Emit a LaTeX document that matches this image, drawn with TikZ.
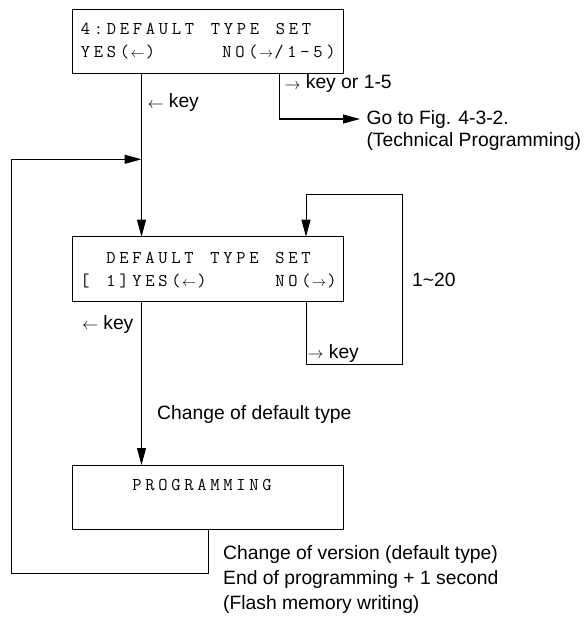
\documentclass[tikz,border=0pt]{standalone}
\usepackage{fontspec}
\setmainfont{Liberation Sans}
\usetikzlibrary{arrows.meta}
\makeatletter
\newcommand\lcdtext[1]{\@tfor\lcd@c:=#1\do{\makebox[13pt][c]{\lcd@c}}}
\makeatother
\newcommand\lcdla{\resizebox{14pt}{!}{$\leftarrow$}}
\newcommand\lcdra{\resizebox{14pt}{!}{$\rightarrow$}}
\newcommand\keyla{\resizebox{16pt}{!}{$\leftarrow$}}
\newcommand\keyra{\resizebox{16pt}{!}{$\rightarrow$}}
\begin{document}
\begin{tikzpicture}[x=1pt,y=-1pt,line width=1pt,
  box/.style={draw,rectangle,minimum width=270.5pt,minimum height=64.3pt,inner sep=0pt,outer sep=0pt},
  lcd/.style={inner sep=0pt,font=\fontsize{18}{18}\selectfont\ttfamily},
  lbl/.style={inner sep=0pt,anchor=base west,font=\fontsize{19.3}{22}\selectfont},
  arr/.style={-{Triangle[length=17pt,width=9pt]}}]
\useasboundingbox (0,0) rectangle (588,623);
% boxes
\node[box] (b1) at (207.75,41.3) {};
\node[box] (b2) at (207.75,268.85) {};
\node[box] (b3) at (207.75,497.15) {};
% box texts
\node[lcd,anchor=base west] (t11) at (78.5,35) {\lcdtext{4:DEFAULT~TYPE~SET}};
\node[lcd,anchor=base west] (t12) at (78.5,58) {\lcdtext{YES({\lcdla})}};
\node[lcd,anchor=base east] (t13) at (338,58) {\lcdtext{NO({\lcdra}/1-5)}};
\node[lcd,anchor=base west] (t21) at (78,263) {\lcdtext{~~DEFAULT~TYPE~SET}};
\node[lcd,anchor=base west] (t22) at (78,286.8) {\lcdtext{[~1]YES({\lcdla})}};
\node[lcd,anchor=base east] (t23) at (339,286.8) {\lcdtext{NO({\lcdra})}};
\node[lcd,anchor=base west] (t31) at (130,490) {\lcdtext{PROGRAMMING}};
% coordinates
\coordinate (mx) at (141.5,0);
\coordinate (gx) at (279.3,0);
\coordinate (gt) at (360,119);
\coordinate (lx) at (306,0);
\coordinate (lr) at (402.7,364.3);
\coordinate (lt) at (402.7,194.3);
\coordinate (fx) at (208.3,0);
\coordinate (lb) at (11,573.3);
\coordinate (fb) at (141.5,159.3);
% connectors
\draw[arr] (b1.south -| mx) -- (b2.north -| mx);
\draw[arr] (b1.south -| gx) |- (gt);
\draw[arr] (b2.south -| mx) -- (b3.north -| mx);
\draw[arr] (b2.south -| lx) |- (lr) -- (lt) -| (b2.north -| lx);
\draw[arr] (b3.south -| fx) |- (lb) |- (fb);
% labels
\node[lbl] (k1) at (147,108) {\keyla{} key};
\node[lbl] (k2) at (284,89) {\keyra{} key or 1-5};
\node[lbl] (g1) at (366,124.5) {Go to Fig. 4-3-2.};
\node[lbl] (g2) at (366,146) {(Technical Programming)};
\node[lbl] (n1) at (411.7,286) {1\textasciitilde 20};
\node[lbl] (k3) at (307,358) {\keyra{} key};
\node[lbl] (k4) at (81.5,329.5) {\keyla{} key};
\node[lbl] (c1) at (156.7,419) {Change of default type};
\node[lbl] (e1) at (222.7,559) {Change of version (default type)};
\node[lbl] (e2) at (222.7,584) {End of programming + 1 second};
\node[lbl] (e3) at (222.7,609) {(Flash memory writing)};
\end{tikzpicture}
\end{document}
